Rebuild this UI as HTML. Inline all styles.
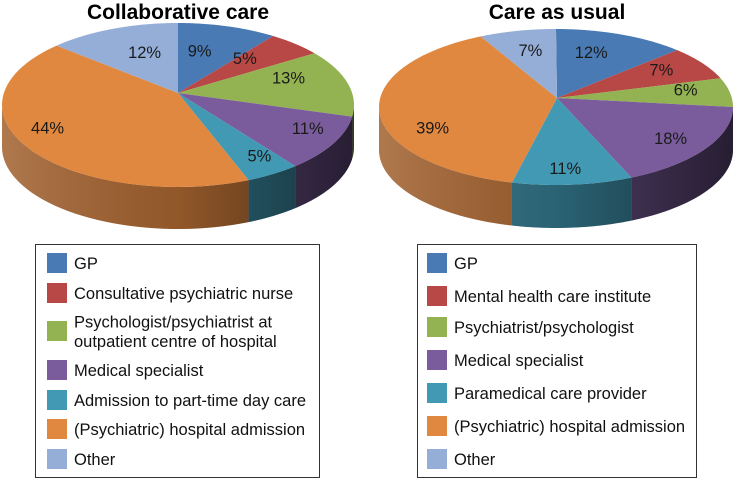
<!DOCTYPE html>
<html><head><meta charset="utf-8"><style>
body{margin:0;background:#fff;font-family:"Liberation Sans",sans-serif;}
svg{display:block}
</style></head><body>
<svg id="c" width="734" height="478" viewBox="0 0 734 478" xmlns="http://www.w3.org/2000/svg">
<defs>
<linearGradient id="shade" x1="0" x2="1" y1="0" y2="0">
<stop offset="0" stop-color="#fff" stop-opacity="0.15"/>
<stop offset="0.5" stop-color="#000" stop-opacity="0.1"/>
<stop offset="1" stop-color="#000" stop-opacity="0.55"/>
</linearGradient>
</defs>
<text x="178" y="19" text-anchor="middle" font-size="21" font-weight="bold">Collaborative care</text>
<text x="557" y="19" text-anchor="middle" font-size="21" font-weight="bold">Care as usual</text>
<g id="g1"></g><g id="g2"></g>
<rect x="35.5" y="244.5" width="284" height="233" fill="#fff" stroke="#333"/>
<rect x="417.5" y="244.5" width="279" height="233" fill="#fff" stroke="#333"/>
<g id="l1"></g><g id="l2"></g>
</svg>
<script>
const colors=["#4a7ab4","#b84845","#93b352","#7a5c9c","#4299b4","#e08840","#94aed8"];
const leftCategories=["GP","Consultative psychiatric nurse","Psychologist/psychiatrist at|outpatient centre of hospital","Medical specialist","Admission to part-time day care","(Psychiatric) hospital admission","Other"];
const leftValues=[9,5,13,11,5,44,12];
const rightCategories=["GP","Mental health care institute","Psychiatrist/psychologist","Medical specialist","Paramedical care provider","(Psychiatric) hospital admission","Other"];
const rightValues=[12,7,6,18,11,39,7];
// label layout nudges (style, not data)
const leftNudge=[[-15,12],[-20,7],[-15,-2],[15,15],[11,21],[-22,10],[15,12]];
const rightNudge=[[-14,4],[-4,1],[0,0],[3,18],[-4,22],[6,32],[2,5]];
const NS="http://www.w3.org/2000/svg";
function mk(t,a,p){const e=document.createElementNS(NS,t);for(const k in a)e.setAttribute(k,a[k]);p.appendChild(e);return e;}
function dark(h,f){const n=parseInt(h.slice(1),16);const r=(n>>16)*f|0,g=((n>>8)&255)*f|0,b=(n&255)*f|0;return `rgb(${r},${g},${b})`;}
function pie(gid,values,cx,cy,rx,ry,ax,ay,depth,name,nudge){
  const g=document.getElementById(gid);
  const total=values.reduce((a,b)=>a+b,0);
  const P=(t,dy)=>[cx+rx*Math.sin(t),cy-ry*Math.cos(t)+(dy||0)];
  let cum=0;const ang=values.map(v=>{const a=[cum/total*2*Math.PI,(cum+v)/total*2*Math.PI];cum+=v;return a;});
  ang.forEach((a,i)=>{
    const s=Math.max(a[0],Math.PI/2),e=Math.min(a[1],3*Math.PI/2);
    if(e<=s)return;
    let pts=[];const n=40;
    for(let k=0;k<=n;k++)pts.push(P(s+(e-s)*k/n));
    for(let k=n;k>=0;k--)pts.push(P(s+(e-s)*k/n,depth));
    const el=mk("polygon",{points:pts.map(p=>p.join(",")).join(" "),fill:dark(colors[i],0.72)},g);
    
    
  });
  let sp=[];for(let k=0;k<=80;k++)sp.push(P(Math.PI/2+Math.PI*k/80));
  for(let k=80;k>=0;k--)sp.push(P(Math.PI/2+Math.PI*k/80,depth));
  const sh=mk("polygon",{points:sp.map(p=>p.join(",")).join(" "),fill:"url(#shade)"},g);
  
  
  ang.forEach((a,i)=>{
    let pts=[[ax,ay]];const n=60;
    for(let k=0;k<=n;k++)pts.push(P(a[0]+(a[1]-a[0])*k/n));
    const el=mk("polygon",{points:pts.map(p=>p.join(",")).join(" "),fill:colors[i]},g);
    
    
  });
  ang.forEach((a,i)=>{
    const m=(a[0]+a[1])/2;
    const nd=nudge[i]||[0,0];
    const x=ax+0.74*rx*Math.sin(m)+nd[0],y=ay-0.72*ry*Math.cos(m)+(Math.cos(m)<0?-8:2)+nd[1];
    const t=mk("text",{x:x,y:y+6,"text-anchor":"middle","font-size":"16.5",fill:"#1a1a1a"},g);
    t.textContent=values[i]+"%";
    
    
  });
}
pie("g1",leftValues,178,105,176,82,178,93,42,"left-pie",leftNudge);
pie("g2",rightValues,556,107,177,78,557,98,43,"right-pie",rightNudge);
function legend(gid,cats,sx,tx,ys,name){
  const g=document.getElementById(gid);
  cats.forEach((c,i)=>{
    const r=mk("rect",{x:sx,y:ys[i]-10,width:20,height:20,fill:colors[i]},g);
    
    
    const lines=c.split("|");
    lines.forEach((ln,j)=>{
      const y=ys[i]+6+(j-(lines.length-1)/2)*19.5;
      const t=mk("text",{x:tx,y:y,"font-size":"16.5",fill:"#111"},g);
      t.textContent=ln;
      
      
    });
  });
}
legend("l1",leftCategories,47,74,[263,293,331,370,400,429,459],"left-legend");
legend("l2",rightCategories,427,454,[263,296,327,360,393,426,459],"right-legend");
</script>
</body></html>
